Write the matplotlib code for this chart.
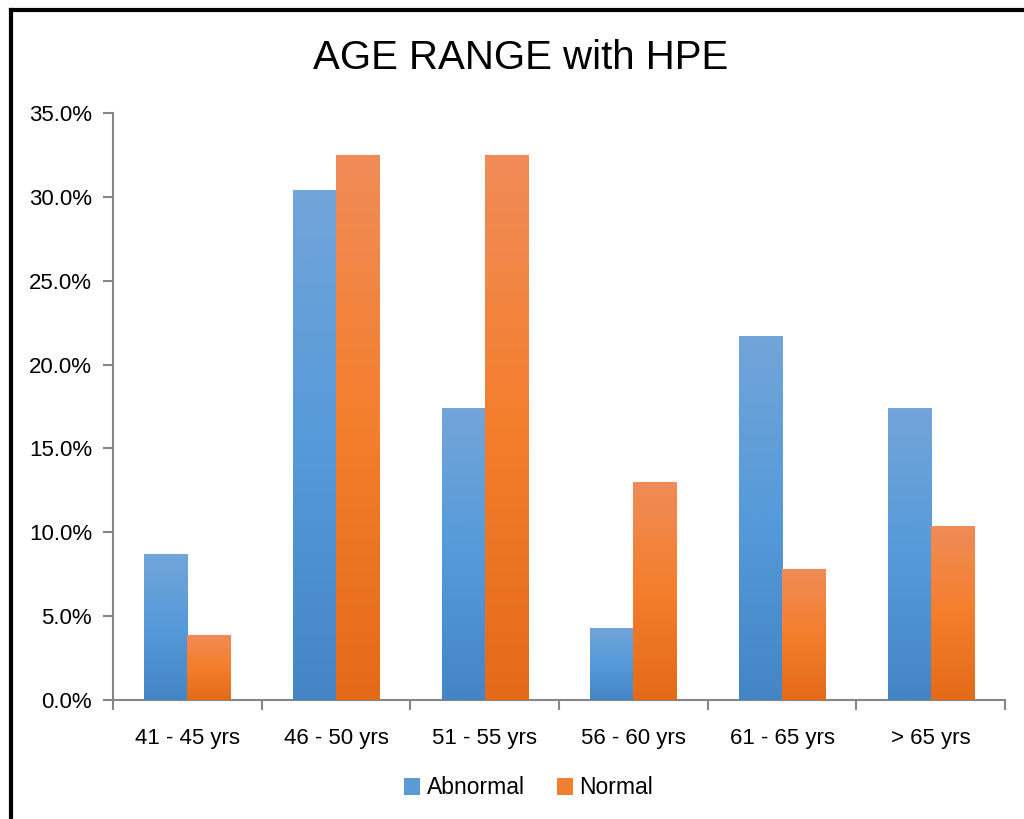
import numpy as np
import matplotlib
matplotlib.use("Agg")
from matplotlib import pyplot as plt
from matplotlib.colors import LinearSegmentedColormap
from matplotlib.lines import Line2D
from matplotlib.patches import Patch

plt.rcParams['font.family'] = ['Liberation Sans', 'DejaVu Sans']

# data (percent)
categories = ["41 - 45 yrs", "46 - 50 yrs", "51 - 55 yrs", "56 - 60 yrs", "61 - 65 yrs", "> 65 yrs"]
abnormal = [8.7, 30.4, 17.4, 4.3, 21.7, 17.4]
normal = [3.9, 32.5, 32.5, 13.0, 7.8, 10.4]
series_names = ["Abnormal", "Normal"]

blue_grad = ["#4485c5", "#559ad9", "#72a5d9"]
orange_grad = ["#e36a18", "#f47e2c", "#f08c58"]

fig = plt.figure(figsize=(10.24, 8.19), dpi=100)
ax = fig.add_axes([113/1024, 1 - 700/819, (1005 - 113)/1024, (700 - 113)/819])

x = np.arange(len(categories))
w = 0.29


def gradient_bars(xpos, vals, cols):
    bars = ax.bar(xpos, vals, w, color=cols[1], linewidth=0, zorder=2)
    cmap = LinearSegmentedColormap.from_list("g", cols)
    grad = np.linspace(0, 1, 256).reshape(-1, 1)
    for b in bars:
        x0, y0 = b.get_x(), b.get_y()
        x1, y1 = x0 + b.get_width(), y0 + b.get_height()
        im = ax.imshow(grad, cmap=cmap, origin="lower", aspect="auto",
                       extent=[x0, x1, y0, y1], zorder=3, interpolation="bilinear")
        im.set_clip_path(b)
    return bars


gradient_bars(x - w/2, abnormal, blue_grad)
gradient_bars(x + w/2, normal, orange_grad)

ax.set_xlim(-0.5, len(categories) - 0.5)
ax.set_ylim(0, 35)
ax.set_yticks(np.arange(0, 36, 5))
ax.set_yticklabels([f"{v:.1f}%" for v in np.arange(0, 36, 5)])
ax.set_xticks(x)
ax.set_xticklabels(categories)
ax.set_xticks(np.arange(-0.5, len(categories), 1), minor=True)

gray = "#868686"
for s in ["top", "right"]:
    ax.spines[s].set_visible(False)
for s in ["left", "bottom"]:
    ax.spines[s].set_color(gray)
    ax.spines[s].set_linewidth(1.5)
ax.tick_params(axis="y", colors=gray, length=7, width=1.5, labelsize=16, labelcolor="black", pad=8)
ax.tick_params(axis="x", which="major", length=0, labelsize=16, labelcolor="black", pad=20)
ax.tick_params(axis="x", which="minor", colors=gray, length=7, width=1.5)

fig.text(0.508, 1 - 58/819, "AGE RANGE with HPE", ha="center", va="center",
         fontsize=29, family=['Liberation Sans Narrow', 'Liberation Sans', 'DejaVu Sans'])

handles = [Patch(facecolor="#5b9bd5"), Patch(facecolor="#f07f2f")]
fig.legend(handles, series_names, loc="center", bbox_to_anchor=(0.516, 1 - 788/819),
           ncol=2, frameon=False, fontsize=16.5, handlelength=0.7, handleheight=0.7,
           handletextpad=0.3, columnspacing=1.4)

# outer chart frame (cropped at right and bottom)
fig.add_artist(Line2D([11/1024, 11/1024], [0, 1 - 10/819], color="black", lw=3))
fig.add_artist(Line2D([11/1024, 1], [1 - 10/819, 1 - 10/819], color="black", lw=3))

fig.savefig("out.png", dpi=100)
